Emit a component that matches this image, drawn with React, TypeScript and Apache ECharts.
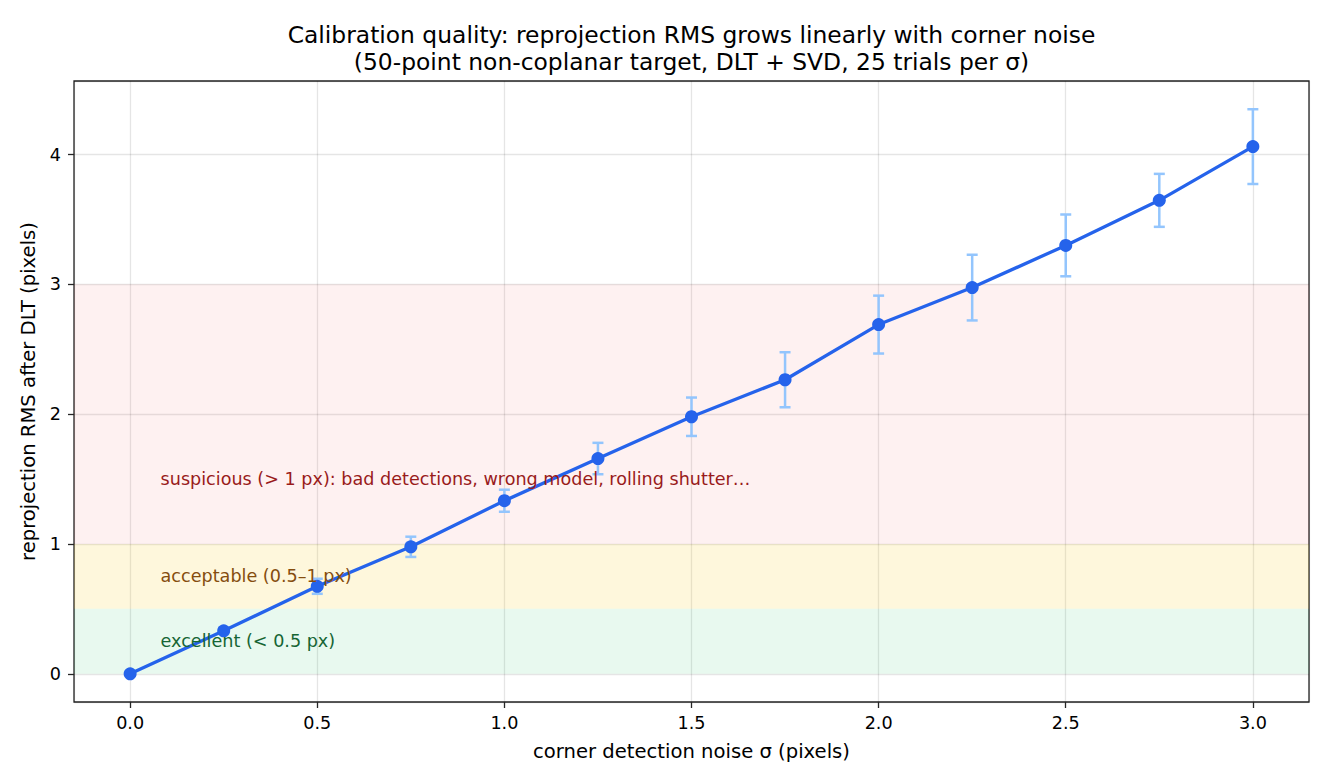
import React, { useEffect, useRef } from "react";
import * as echarts from "echarts";

// Corner-noise levels (pixels) and the resulting reprojection RMS over 25 trials
const sigma = [0, 0.25, 0.5, 0.75, 1.0, 1.25, 1.5, 1.75, 2.0, 2.25, 2.5, 2.75, 3.0];
const rmsMean = [0, 0.331, 0.674, 0.978, 1.333, 1.658, 1.98, 2.265, 2.69, 2.975, 3.3, 3.647, 4.061];
const rmsStd = [0, 0.025, 0.058, 0.078, 0.085, 0.121, 0.148, 0.212, 0.223, 0.253, 0.238, 0.204, 0.288];

// Quality bands on the RMS axis
const bandLow = [0, 0.5, 1];
const bandHigh = [0.5, 1, 3];
const bandColors = ["rgba(34,197,94,0.1)", "rgba(250,204,21,0.15)", "rgba(239,68,68,0.075)"];

// Band annotations
const noteX = 0.08;
const noteY = [0.25, 0.75, 1.5];
const noteText = [
  "excellent (< 0.5 px)",
  "acceptable (0.5–1 px)",
  "suspicious (> 1 px): bad detections, wrong model, rolling shutter…",
];
const noteColors = ["#166534", "#854d0e", "#991b1b"];

const titleLines = [
  "Calibration quality: reprojection RMS grows linearly with corner noise",
  "(50-point non-coplanar target, DLT + SVD, 25 trials per σ)",
];

const FONT = "DejaVu Sans";
const INK = "#262626";

export default function App() {
  const ref = useRef<HTMLDivElement>(null);

  useEffect(() => {
    if (!ref.current) return;
    const chart = echarts.init(ref.current, null, { renderer: "svg" });

    const plotLeft = 74;
    const plotTop = 81;
    const plotWidth = 1235;
    const plotHeight = 621;

    // axis limits padded by 5% of the data span
    const xSpan = sigma[sigma.length - 1] - sigma[0];
    const xMin = sigma[0] - 0.05 * xSpan;
    const xMax = sigma[sigma.length - 1] + 0.05 * xSpan;
    const yTop = Math.max(...rmsMean.map((m, i) => m + rmsStd[i]));
    const yBottom = 0;
    const ySpan = yTop - yBottom;
    const yMin = yBottom - 0.05 * ySpan;
    const yMax = yTop + 0.05 * ySpan;

    const lineData = sigma.map((s, i) => [s, rmsMean[i]]);
    const errData = sigma.map((s, i) => [s, rmsMean[i] - rmsStd[i], rmsMean[i] + rmsStd[i]]);

    const bandAreas = bandLow.map((lo, i) => [
      { yAxis: lo, itemStyle: { color: bandColors[i], opacity: 1 } },
      { yAxis: bandHigh[i] },
    ]);

    const noteSeries = noteText.map((t, i) => ({
      type: "scatter",
      data: [[noteX, noteY[i]]],
      symbolSize: 1,
      itemStyle: { color: "rgba(0,0,0,0)", opacity: 1 },
      silent: true,
      z: 4,
      label: {
        show: true,
        position: "right",
        distance: 0,
        formatter: t,
        color: noteColors[i],
        opacity: 1,
        fontSize: 17.6,
        fontFamily: FONT,
        verticalAlign: "middle",
      },
    }));

    const tickLabelStyle = { color: "#000", fontSize: 17.6, fontFamily: FONT };
    const nameStyle = { color: "#000", fontSize: 19.6, fontFamily: FONT };
    const splitLineStyle = { color: "rgba(0,0,0,0.1)", width: 1.3 };
    const tickStyle = { show: true, length: 6, lineStyle: { color: INK, width: 1.3 } };

    chart.setOption({
      animation: false,
      backgroundColor: "#fff",
      textStyle: { fontFamily: FONT },
      graphic: titleLines.map((t, i) => ({
        type: "text",
        x: plotLeft + plotWidth / 2,
        y: 35 + i * 27,
        style: {
          text: t,
          align: "center",
          verticalAlign: "middle",
          fontSize: 23.4,
          fontFamily: FONT,
          fill: "#000",
        },
      })),
      grid: {
        left: plotLeft,
        top: plotTop,
        width: plotWidth,
        height: plotHeight,
        show: true,
        borderColor: INK,
        borderWidth: 1.3,
        backgroundColor: "transparent",
      },
      xAxis: {
        type: "value",
        min: xMin,
        max: xMax,
        splitNumber: 7,
        name: "corner detection noise σ (pixels)",
        nameLocation: "middle",
        nameGap: 39,
        nameTextStyle: nameStyle,
        axisLine: { show: false, onZero: false },
        axisTick: tickStyle,
        axisLabel: {
          ...tickLabelStyle,
          margin: 12,
          showMinLabel: false,
          showMaxLabel: false,
          formatter: (v: number) => v.toFixed(1),
        },
        splitLine: { show: true, lineStyle: splitLineStyle },
      },
      yAxis: {
        type: "value",
        min: yMin,
        max: yMax,
        splitNumber: 5,
        name: "reprojection RMS after DLT (pixels)",
        nameLocation: "middle",
        nameGap: 34,
        nameTextStyle: nameStyle,
        axisLine: { show: false, onZero: false },
        axisTick: tickStyle,
        axisLabel: {
          ...tickLabelStyle,
          margin: 13,
          showMinLabel: false,
          showMaxLabel: false,
          formatter: (v: number) => String(Math.round(v)),
        },
        splitLine: { show: true, lineStyle: splitLineStyle },
      },
      series: [
        {
          type: "custom",
          z: 2,
          silent: true,
          data: errData,
          encode: { x: 0, y: [1, 2] },
          markArea: {
            silent: true,
            data: bandAreas,
          },
          renderItem: (_params: any, api: any) => {
            const x = api.value(0);
            const lo = api.coord([x, api.value(1)]);
            const hi = api.coord([x, api.value(2)]);
            const cap = 5.5;
            const style = { stroke: "#93c5fd", lineWidth: 2.5, fill: "none" };
            return {
              type: "group",
              children: [
                { type: "line", shape: { x1: lo[0], y1: lo[1], x2: hi[0], y2: hi[1] }, style },
                { type: "line", shape: { x1: lo[0] - cap, y1: lo[1], x2: lo[0] + cap, y2: lo[1] }, style },
                { type: "line", shape: { x1: hi[0] - cap, y1: hi[1], x2: hi[0] + cap, y2: hi[1] }, style },
              ],
            };
          },
        },
        {
          type: "line",
          z: 3,
          data: lineData,
          symbol: "circle",
          symbolSize: 13,
          showSymbol: true,
          lineStyle: { color: "#2563eb", width: 3.3 },
          itemStyle: { color: "#2563eb" },
          silent: true,
        },
        ...noteSeries,
      ],
    });

    return () => chart.dispose();
  }, []);

  return (
    <div
      ref={ref}
      style={{ position: "absolute", left: 0, top: 0, width: 1330, height: 784, background: "#fff" }}
    />
  );
}
